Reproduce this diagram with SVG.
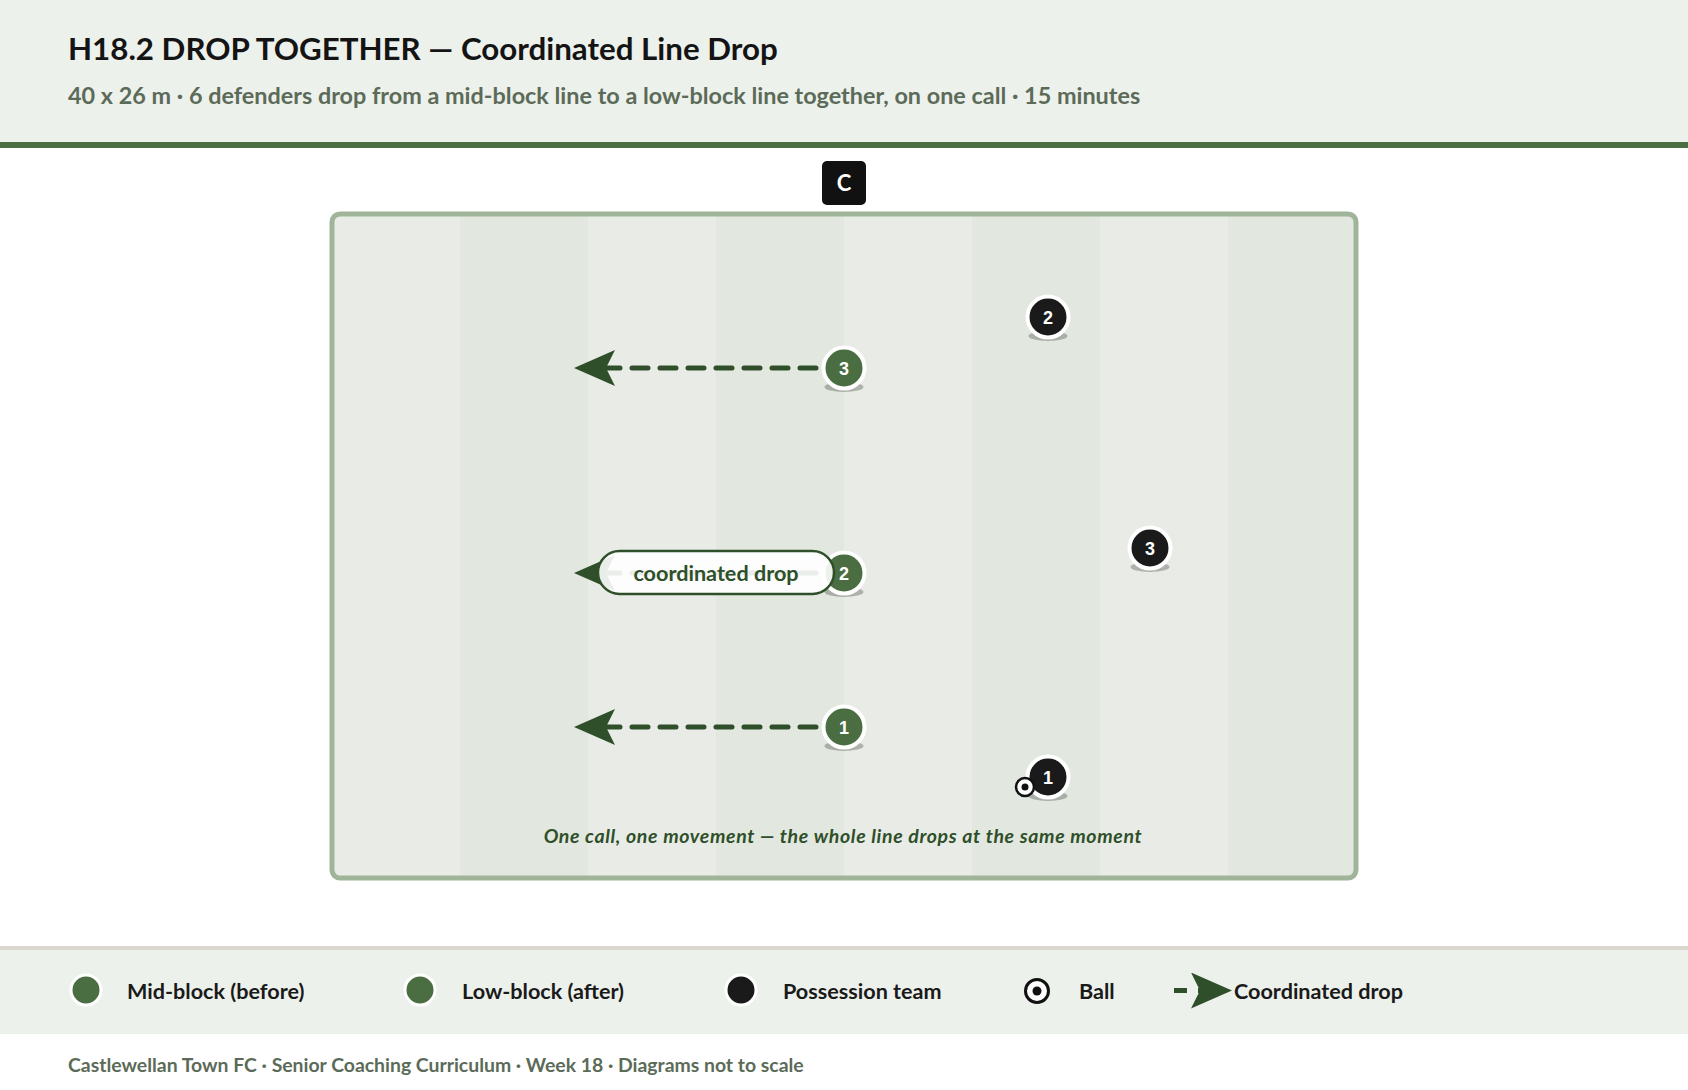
<svg xmlns="http://www.w3.org/2000/svg" width="1688" height="1090" viewBox="0 0 1688 1090">
<style>
.title{font-family:Lato,"Liberation Sans",sans-serif;font-weight:700;font-size:31.3px;fill:#141414}
.sub{font-family:Lato,"Liberation Sans",sans-serif;font-weight:700;font-size:23.4px;fill:#5b6b58}
.foot{font-family:Lato,"Liberation Sans",sans-serif;font-weight:700;font-size:19.4px;fill:#5b6b58}
.leg{font-family:Lato,"Liberation Sans",sans-serif;font-weight:700;font-size:21.6px;fill:#1a1a1a}
.num{font-family:"Liberation Sans",Arial,sans-serif;font-weight:700;font-size:18px;fill:#ffffff;text-anchor:middle}
.cap{font-family:Lato,"Liberation Sans",sans-serif;font-weight:700;font-style:italic;font-size:19.5px;letter-spacing:0.65px;fill:#2f4f2a;text-anchor:middle}
.pilltxt{font-family:Lato,"Liberation Sans",sans-serif;font-weight:700;font-size:21.6px;fill:#2f4f2a;text-anchor:middle}
.def{fill:#4a6e42;stroke:#ffffff;stroke-width:4}
.opp{fill:#1a1a1a;stroke:#ffffff;stroke-width:4}
.ldef{fill:#4a6e42;stroke:#ffffff;stroke-width:3}
.lopp{fill:#1a1a1a;stroke:#ffffff;stroke-width:3}
.shadow{fill:#000000;fill-opacity:0.25}
.drop{fill:none;stroke:#2f4f2a;stroke-width:5;stroke-dasharray:16 12;stroke-linecap:round}
.lightS{fill:#e9ece6}
.darkS{fill:#e2e8df}
</style>
<defs>
<marker id="ah" markerUnits="userSpaceOnUse" viewBox="0 0 41 36" markerWidth="41" markerHeight="36" refX="9" refY="18" orient="auto">
<path d="M0,0 L41,18 L0,36 L9,18 Z" fill="#2f4f2a"/>
</marker>
<clipPath id="pitchClip"><rect x="332" y="214" width="1024" height="664" rx="8"/></clipPath>
</defs>

<rect x="0" y="0" width="1688" height="1090" fill="#ffffff"/>
<g id="header">
<rect x="0" y="0" width="1688" height="142" fill="#edf1ec"/>
<rect x="0" y="142" width="1688" height="6" fill="#4a6e42"/>
<text class="title" x="68" y="60">H18.2 DROP TOGETHER — Coordinated Line Drop</text>
<text class="sub" x="68" y="104">40 x 26 m · 6 defenders drop from a mid-block line to a low-block line together, on one call · 15 minutes</text>
</g>

<g id="pitch">
<g clip-path="url(#pitchClip)">
<rect class="lightS" x="332" y="214" width="128" height="664"/>
<rect class="darkS" x="460" y="214" width="128" height="664"/>
<rect class="lightS" x="588" y="214" width="128" height="664"/>
<rect class="darkS" x="716" y="214" width="128" height="664"/>
<rect class="lightS" x="844" y="214" width="128" height="664"/>
<rect class="darkS" x="972" y="214" width="128" height="664"/>
<rect class="lightS" x="1100" y="214" width="128" height="664"/>
<rect class="darkS" x="1228" y="214" width="128" height="664"/>
</g>
<rect x="332" y="214" width="1024" height="664" rx="8" fill="none" stroke="#a0b49a" stroke-width="5"/>
<text class="cap" x="843" y="843">One call, one movement — the whole line drops at the same moment</text>
</g>

<g id="coach">
<rect x="822" y="161" width="44" height="44" rx="5" fill="#111111"/>
<text x="844" y="191" font-family="Lato,'Liberation Sans',sans-serif" font-weight="700" font-size="22" fill="#ffffff" text-anchor="middle">C</text>
</g>

<g id="connectors">
<line class="drop" x1="844" y1="368" x2="606" y2="368" marker-end="url(#ah)"/>
<line class="drop" x1="844" y1="573" x2="606" y2="573" marker-end="url(#ah)"/>
<line class="drop" x1="844" y1="727" x2="606" y2="727" marker-end="url(#ah)"/>
</g>

<g id="def3">
<ellipse class="shadow" cx="844" cy="387" rx="19.5" ry="5"/>
<circle class="def" cx="844" cy="368" r="20.5"/>
<text class="num" x="844" y="374.5">3</text>
</g>
<g id="def2">
<ellipse class="shadow" cx="844" cy="592" rx="19.5" ry="5"/>
<circle class="def" cx="844" cy="573" r="20.5"/>
<text class="num" x="844" y="579.5">2</text>
</g>
<g id="def1">
<ellipse class="shadow" cx="844" cy="746" rx="19.5" ry="5"/>
<circle class="def" cx="844" cy="727" r="20.5"/>
<text class="num" x="844" y="733.5">1</text>
</g>

<g id="opp2">
<ellipse class="shadow" cx="1048" cy="336" rx="19.5" ry="5"/>
<circle class="opp" cx="1048" cy="317" r="20.5"/>
<text class="num" x="1048" y="323.5">2</text>
</g>
<g id="opp3">
<ellipse class="shadow" cx="1150" cy="567" rx="19.5" ry="5"/>
<circle class="opp" cx="1150" cy="548" r="20.5"/>
<text class="num" x="1150" y="554.5">3</text>
</g>
<g id="opp1">
<ellipse class="shadow" cx="1048" cy="796" rx="19.5" ry="5"/>
<circle class="opp" cx="1048" cy="777" r="20.5"/>
<text class="num" x="1048" y="783.5">1</text>
</g>

<g id="ball">
<circle cx="1025" cy="787" r="9" fill="#ffffff" stroke="#111111" stroke-width="2.5"/>
<circle cx="1025" cy="787" r="3.5" fill="#111111"/>
</g>

<g id="label-coordinated-drop">
<rect x="598" y="551" width="236" height="43" rx="21.5" fill="#ffffff" fill-opacity="0.9" stroke="#2f4f2a" stroke-width="2.5"/>
<text class="pilltxt" x="716" y="581">coordinated drop</text>
</g>

<g id="legend">
<rect x="0" y="946" width="1688" height="88" fill="#edf1ec"/>
<rect x="0" y="946" width="1688" height="4" fill="#d9d7cd"/>
<circle class="ldef" cx="86" cy="990" r="15"/>
<text class="leg" x="127" y="999">Mid-block (before)</text>
<circle class="ldef" cx="420" cy="990" r="15"/>
<text class="leg" x="462" y="999">Low-block (after)</text>
<circle class="lopp" cx="741" cy="990" r="15"/>
<text class="leg" x="783" y="999">Possession team</text>
<circle cx="1037" cy="991" r="11.5" fill="#ffffff" stroke="#111111" stroke-width="3"/>
<circle cx="1037" cy="991" r="4.5" fill="#111111"/>
<text class="leg" x="1079" y="999">Ball</text>
<line x1="1174" y1="990.5" x2="1200" y2="990.5" stroke="#2f4f2a" stroke-width="5" stroke-dasharray="13 11" marker-end="url(#ah)"/>
<text class="leg" x="1234" y="999">Coordinated drop</text>
</g>

<g id="footer">
<text class="foot" x="68" y="1072">Castlewellan Town FC · Senior Coaching Curriculum · Week 18 · Diagrams not to scale</text>
</g>
</svg>
